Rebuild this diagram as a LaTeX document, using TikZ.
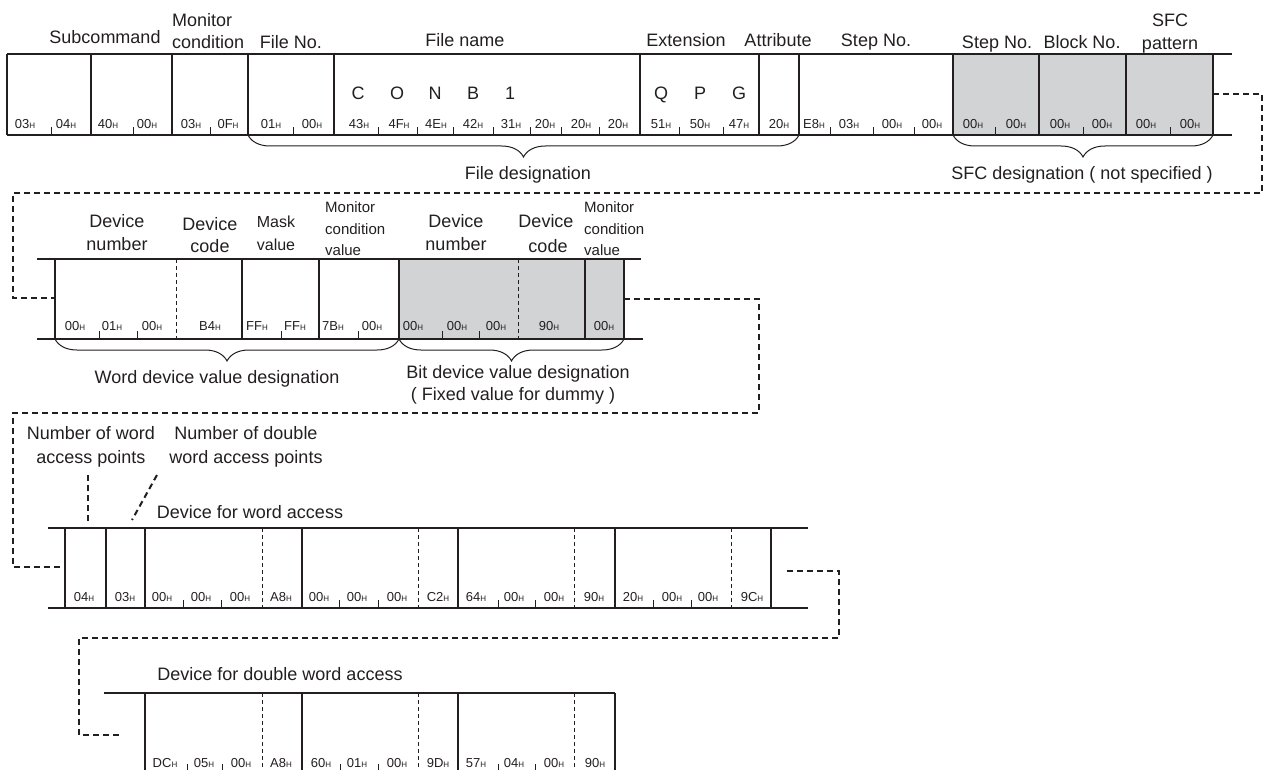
\documentclass[tikz,border=0pt]{standalone}
\usepackage{fontspec}
\setmainfont{Liberation Sans}
\usetikzlibrary{decorations.pathreplacing}
\definecolor{ink}{RGB}{35,31,32}
\definecolor{cellgray}{RGB}{209,211,212}
\newcommand{\hx}[1]{#1{\fontsize{8}{9}\selectfont H}}

\begin{document}
\begin{tikzpicture}[
  x=1pt,y=-1pt,
  every node/.style={inner sep=0pt,text=ink},
  lbl/.style={font=\fontsize{18}{22}\selectfont,anchor=base},
  lblmask/.style={font=\fontsize{16}{19}\selectfont,anchor=base},
  lblsm/.style={font=\fontsize{15}{18}\selectfont,anchor=base west},
  hexval/.style={font=\fontsize{13}{15}\selectfont,anchor=base},
  cellline/.style={draw=ink,line width=1.2pt},
  divider/.style={draw=ink,line width=0.8pt,dash pattern=on 4pt off 3pt},
  sepmark/.style={draw=ink,line width=0.9pt},
  link/.style={draw=ink,line width=2pt,dash pattern=on 6pt off 4pt},
  curly/.style={draw=ink,line width=1pt,decorate,decoration={brace,mirror,amplitude=22pt}},
]
  \useasboundingbox (0,0) rectangle (1265,770);
  \clip (0,0) rectangle (1265,770);

  % Row 1: command header
  \fill[cellgray] (953,54) rectangle (1213,135);
  \draw[cellline] (7,54) -- (1232,54) (7,135) -- (1232,135);
  \foreach \x in {7,91,172,248,334,640,759,799,953,1039,1126,1213}
    \draw[cellline] (\x,54) -- (\x,135);
  \foreach \x in {51,133,210,293,378,417,453,493,530,561,599,679,723,830,873,914,995,1083,1170}
    \draw[sepmark] (\x,135) -- ++(0,-8);
  \foreach \x/\v [count=\i] in {25/03,66/04,108/40,147/00,191/03,228/0F,271/01,312/00,
      359/43,399/4F,436/4E,473/42,511/31,545/20,581/20,618/20,661/51,700/50,739/47,
      779/20,814/E8,849/03,892/00,932/00,973/00,1016/00,1060/00,1102/00,1146/00,1190/00}
    \node[hexval] (ra\i) at (\x,129) {\hx{\v}};
  \foreach \x/\c in {358/C,397/O,435/N,473/B,510/1,661/Q,700/P,739/G}
    \node[lbl] (ch\c) at (\x,100) {\c};

  \node[lbl] (subcmd) at (105,44) {Subcommand};
  \node[lbl,anchor=base west] (moncond-a) at (172,27) {Monitor};
  \node[lbl,anchor=base west] (moncond-b) at (172,49) {condition};
  \node[lbl] (fileno) at (291,49) {File No.};
  \node[lbl] (fname) at (465,47) {File name};
  \node[lbl] (ext) at (686,47) {Extension};
  \node[lbl] (attr) at (778,47) {Attribute};
  \node[lbl] (stepno) at (876,47) {Step No.};
  \node[lbl] (sfcstep) at (997,49) {Step No.};
  \node[lbl] (sfcblock) at (1082,49) {Block No.};
  \node[lbl] (sfcpat-a) at (1170,27) {SFC};
  \node[lbl] (sfcpat-b) at (1170,50) {pattern};

  \draw[curly] (248,135) -- (799,135);
  \draw[curly] (953,135) -- (1213,135);
  \node[lbl] (filedes) at (528,179) {File designation};
  \node[lbl] (sfcdes) at (1082,179) {SFC designation ( not specified )};

  % Row 2: device values
  \fill[cellgray] (399,259) rectangle (624,339);
  \draw[cellline] (37,259) -- (641,259) (37,339) -- (643,339);
  \foreach \x in {55,242,319,399,585,624}
    \draw[cellline] (\x,259) -- (\x,339);
  \foreach \x in {176,518}
    \draw[divider] (\x,259) -- (\x,339);
  \foreach \x in {99,137,281,358,442,479}
    \draw[sepmark] (\x,339) -- ++(0,-8);
  \foreach \x/\v [count=\i] in {75/00,112/01,152/00,210/B4,257/FF,295/FF,333/7B,372/00,
      413/00,457/00,496/00,549/90,604/00}
    \node[hexval] (rb\i) at (\x,330) {\hx{\v}};

  \node[lbl] (devno-a) at (117,227) {Device};
  \node[lbl] (devno-b) at (117,250) {number};
  \node[lbl] (devcode-a) at (210,230) {Device};
  \node[lbl] (devcode-b) at (210,252) {code};
  \node[lblmask] (mask-a) at (276,227) {Mask};
  \node[lblmask] (mask-b) at (276,250) {value};
  \node[lblsm] (monval-a) at (325,212) {Monitor};
  \node[lblsm] (monval-b) at (325,234) {condition};
  \node[lblsm] (monval-c) at (325,255) {value};
  \node[lbl] (bdevno-a) at (456,227) {Device};
  \node[lbl] (bdevno-b) at (456,250) {number};
  \node[lbl] (bdevcode-a) at (546,227) {Device};
  \node[lbl] (bdevcode-b) at (548,252) {code};
  \node[lblsm] (bmonval-a) at (584,212) {Monitor};
  \node[lblsm] (bmonval-b) at (584,234) {condition};
  \node[lblsm] (bmonval-c) at (584,255) {value};

  \draw[curly] (55,339) -- (399,339);
  \draw[curly] (399,339) -- (624,339);
  \node[lbl] (worddes) at (217,383) {Word device value designation};
  \node[lbl] (bitdes-a) at (518,378) {Bit device value designation};
  \node[lbl] (bitdes-b) at (513,400) {( Fixed value for dummy )};

  % Row 3: word access
  \node[lbl] (nword-a) at (91,439) {Number of word};
  \node[lbl] (nword-b) at (91,463) {access points};
  \node[lbl] (ndword-a) at (246,439) {Number of double};
  \node[lbl] (ndword-b) at (246,463) {word access points};
  \node[lbl] (worddev) at (250,518) {Device for word access};
  \coordinate (nw-top) at (88,475);
  \coordinate (nw-bot) at (88,522);
  \coordinate (ndw-top) at (157,475);
  \coordinate (ndw-bot) at (132,520);
  \draw[link] (nw-top) -- (nw-bot);
  \draw[link] (ndw-top) -- (ndw-bot);

  \draw[cellline] (48,528) -- (808,528) (48,608) -- (808,608);
  \foreach \x in {65,106,145,302,458,615,771}
    \draw[cellline] (\x,528) -- (\x,608);
  \foreach \x in {262,418,574,731}
    \draw[divider] (\x,528) -- (\x,608);
  \foreach \x in {183,221,339,378,498,535,653,691}
    \draw[sepmark] (\x,608) -- ++(0,-8);
  \foreach \x/\v [count=\i] in {84/04,125/03,162/00,201/00,240/00,281/A8,319/00,357/00,
      397/00,438/C2,476/64,514/00,554/00,594/90,633/20,672/00,708/00,752/9C}
    \node[hexval] (rc\i) at (\x,601) {\hx{\v}};

  % Row 4: double word access
  \node[lbl] (dworddev) at (280,680) {Device for double word access};
  \draw[cellline] (104,693) -- (615,693);
  \foreach \x in {145,302,458,615}
    \draw[cellline] (\x,693) -- (\x,775);
  \foreach \x in {262,418,574}
    \draw[divider] (\x,693) -- (\x,775);
  \foreach \x in {187,222,340,378,498,535}
    \draw[sepmark] (\x,772) -- ++(0,-8);
  \foreach \x/\v [count=\i] in {165/DC,204/05,241/00,281/A8,321/60,357/01,397/00,438/9D,
      476/57,514/04,554/00,595/90}
    \node[hexval] (rd\i) at (\x,767) {\hx{\v}};

  % Continuation links
  \coordinate (ka-s) at (1213,94);
  \coordinate (ka-r) at (1262,193);
  \coordinate (ka-l) at (13,298);
  \coordinate (ka-e) at (55,298);
  \draw[link] (ka-s) -| (ka-r) -| (ka-l) -- (ka-e);
  \coordinate (kb-s) at (624,299);
  \coordinate (kb-r) at (759,413);
  \coordinate (kb-l) at (13,567);
  \coordinate (kb-e) at (65,567);
  \draw[link] (kb-s) -| (kb-r) -| (kb-l) -- (kb-e);
  \coordinate (kc-s) at (787,571);
  \coordinate (kc-r) at (839,638);
  \coordinate (kc-l) at (79,735);
  \coordinate (kc-e) at (119,735);
  \draw[link] (kc-s) -| (kc-r) -| (kc-l) -- (kc-e);
\end{tikzpicture}
\end{document}
